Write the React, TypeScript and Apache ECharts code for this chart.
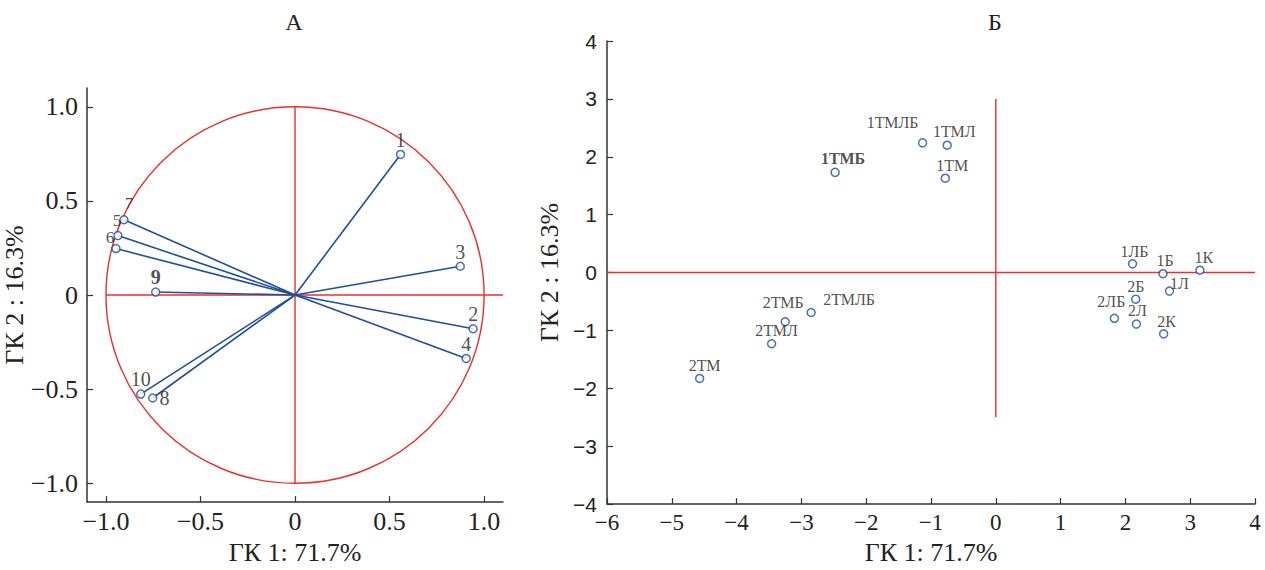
import React, { useEffect, useRef } from "react";
import * as echarts from "echarts";

// Panel A: loadings
const leftLabels = ["1", "2", "3", "4", "5", "6", "7", "8", "9", "10"];
const leftX = [0.558, 0.942, 0.874, 0.905, -0.937, -0.947, -0.905, -0.753, -0.737, -0.816];
const leftY = [0.747, -0.179, 0.153, -0.337, 0.316, 0.247, 0.4, -0.547, 0.016, -0.526];
const leftTicks = [-1, -0.5, 0, 0.5, 1];
const leftHLine = [[-1, 0], [1.1, 0]];
const leftVLine = [[0, -1], [0, 1]];

// Panel B: scores
const rightLabels = ["1ТМЛБ", "1ТМЛ", "1ТМ", "1ТМБ", "1ЛБ", "1Б", "1К", "1Л", "2Б", "2ЛБ", "2Л", "2К", "2ТМЛБ", "2ТМБ", "2ТМЛ", "2ТМ"];
const rightX = [-1.13, -0.75, -0.78, -2.48, 2.11, 2.58, 3.15, 2.68, 2.16, 1.83, 2.17, 2.59, -2.85, -3.25, -3.46, -4.57];
const rightY = [2.24, 2.2, 1.63, 1.73, 0.15, -0.02, 0.04, -0.32, -0.46, -0.79, -0.89, -1.06, -0.69, -0.85, -1.23, -1.83];
const rightHLine = [[-6, 0], [4, 0]];
const rightVLine = [[0, -2.5], [0, 3]];

const axisTitleX = "ГК 1: 71.7%";
const axisTitleY = "ГК 2 : 16.3%";

// label styling (pixel offsets)
const leftLabelOffsets = [[0, 0], [0, 0], [0, 0], [0, 0], [-1, 0], [-6, 4], [5, -2], [0, 0], [0, 0], [0, 0]];
const rightLabelOffsets = [[-30, -7], [7, 0], [7, 1], [8, 0], [2, 1], [2, 1], [4, 1], [10, 6], [0, 1], [-3, -3], [1, 0], [3, 1], [38, 1], [-2, -6], [5, 0], [5, 1]];
const boldLabels = ["9", "1ТМБ"];
const crowdedLabels = ["5", "6", "7"];

const BLUE = "#1f4e9e";
const RED = "#e8302c";
const AXIS = "#333";
const SERIF = "'Liberation Serif', 'DejaVu Serif', serif";
const SANS = "'Liberation Sans', Arial, sans-serif";

const fmtLeft = (v: number) => (v === 0 ? "0" : (v < 0 ? "−" : "") + Math.abs(v).toFixed(1));
const fmtRight = (v: number) => (v < 0 ? "−" : "") + Math.abs(v);

export default function App() {
  const ref = useRef<HTMLDivElement>(null);
  useEffect(() => {
    if (!ref.current) return;
    const chart = echarts.init(ref.current, null, { renderer: "svg" });

    const vectorSeries = leftX.map((x, i) => ({
      type: "line",
      xAxisIndex: 0,
      yAxisIndex: 0,
      data: [[0, 0], [x, leftY[i]]],
      symbol: "none",
      lineStyle: { color: BLUE, width: 1.6 },
      z: 3,
    }));

    const redLine = (data: number[][], idx: number) => ({
      type: "line",
      xAxisIndex: idx,
      yAxisIndex: idx,
      data,
      symbol: "none",
      lineStyle: { color: RED, width: 1.4 },
      z: 2,
    });

    const xAxisCommon = {
      type: "value",
      axisLine: { show: true, onZero: false, lineStyle: { color: AXIS, width: 1.5 } },
      axisTick: { show: true, inside: true, length: 6, lineStyle: { color: AXIS, width: 1.2 } },
      splitLine: { show: false },
      nameLocation: "middle",
      nameTextStyle: { fontFamily: SERIF, fontSize: 26, color: "#222" },
    };

    chart.setOption({
      animation: false,
      grid: [
        { left: 86, top: 88, width: 417, height: 419 },
        { left: 607, top: 41, width: 648, height: 466 },
      ],
      xAxis: [
        {
          ...xAxisCommon,
          gridIndex: 0,
          min: -1.1,
          max: 1.1,
          axisTick: { ...xAxisCommon.axisTick, customValues: leftTicks },
          axisLabel: { customValues: leftTicks, formatter: fmtLeft, fontFamily: SERIF, fontSize: 26, color: "#222", margin: 6 },
          name: axisTitleX,
          nameGap: 33,
        },
        {
          ...xAxisCommon,
          gridIndex: 1,
          min: -6,
          max: 4,
          interval: 1,
          axisLabel: { formatter: fmtRight, fontFamily: SERIF, fontSize: 23, color: "#222", margin: 7 },
          name: axisTitleX,
          nameGap: 33,
        },
      ],
      yAxis: [
        {
          ...xAxisCommon,
          gridIndex: 0,
          min: -1.1,
          max: 1.1,
          axisTick: { ...xAxisCommon.axisTick, customValues: leftTicks },
          axisLabel: { customValues: leftTicks, formatter: fmtLeft, fontFamily: SERIF, fontSize: 26, color: "#222", margin: 9 },
          name: axisTitleY,
          nameRotate: 90,
          nameGap: 48,
        },
        {
          ...xAxisCommon,
          gridIndex: 1,
          min: -4,
          max: 4,
          interval: 1,
          axisLabel: { formatter: fmtRight, fontFamily: SANS, fontSize: 21, color: "#222", margin: 10 },
          name: axisTitleY,
          nameRotate: 90,
          nameGap: 44,
        },
      ],
      series: [
        redLine(leftHLine, 0),
        redLine(leftVLine, 0),
        redLine(rightHLine, 1),
        redLine(rightVLine, 1),
        ...vectorSeries,
        {
          type: "scatter",
          xAxisIndex: 0,
          yAxisIndex: 0,
          symbol: "circle",
          symbolSize: 8,
          itemStyle: { color: "#fff", borderColor: BLUE, borderWidth: 1.5 },
          z: 4,
          data: leftX.map((x, i) => ({
            value: [x, leftY[i]],
            name: leftLabels[i],
            label:
              leftLabels[i] === "8"
                ? { position: "right", distance: 2 }
                : {
                    offset: leftLabelOffsets[i],
                    fontSize: crowdedLabels.includes(leftLabels[i]) ? 17 : 20,
                    fontWeight: boldLabels.includes(leftLabels[i]) ? "bold" : "normal",
                  },
          })),
          label: {
            show: true,
            position: "top",
            distance: 3,
            formatter: (p: any) => p.name,
            fontFamily: SERIF,
            fontSize: 20,
            lineHeight: 14,
            color: "#222",
          },
        },
        {
          type: "scatter",
          xAxisIndex: 1,
          yAxisIndex: 1,
          symbol: "circle",
          symbolSize: 8,
          itemStyle: { color: "#fff", borderColor: BLUE, borderWidth: 1.5 },
          z: 4,
          data: rightX.map((x, i) => ({
            value: [x, rightY[i]],
            name: rightLabels[i],
            label: {
              offset: rightLabelOffsets[i],
              fontWeight: boldLabels.includes(rightLabels[i]) ? "bold" : "normal",
            },
          })),
          label: {
            show: true,
            position: "top",
            distance: 1,
            formatter: (p: any) => p.name,
            fontFamily: SERIF,
            fontSize: 16,
            color: "#222",
          },
        },
      ],
    });

    const c = chart.convertToPixel({ gridIndex: 0 }, [0, 0]) as number[];
    const px = chart.convertToPixel({ gridIndex: 0 }, [1, 1]) as number[];
    const rx = px[0] - c[0];
    const ry = c[1] - px[1];
    chart.setOption({
      graphic: [
        {
          type: "ellipse",
          shape: { cx: c[0], cy: c[1], rx, ry },
          style: { fill: "none", stroke: RED, lineWidth: 1.4 },
          z: 1,
          silent: true,
        },
        {
          type: "text",
          x: 294,
          y: 22,
          style: { text: "А", font: `24px ${SERIF}`, fill: "#222", textAlign: "center", textVerticalAlign: "middle" },
        },
        {
          type: "text",
          x: 995,
          y: 22,
          style: { text: "Б", font: `24px ${SERIF}`, fill: "#222", textAlign: "center", textVerticalAlign: "middle" },
        },
      ],
    });

    return () => chart.dispose();
  }, []);

  return <div ref={ref} style={{ position: "fixed", left: 0, top: 0, width: 1265, height: 570, background: "#fff" }} />;
}
